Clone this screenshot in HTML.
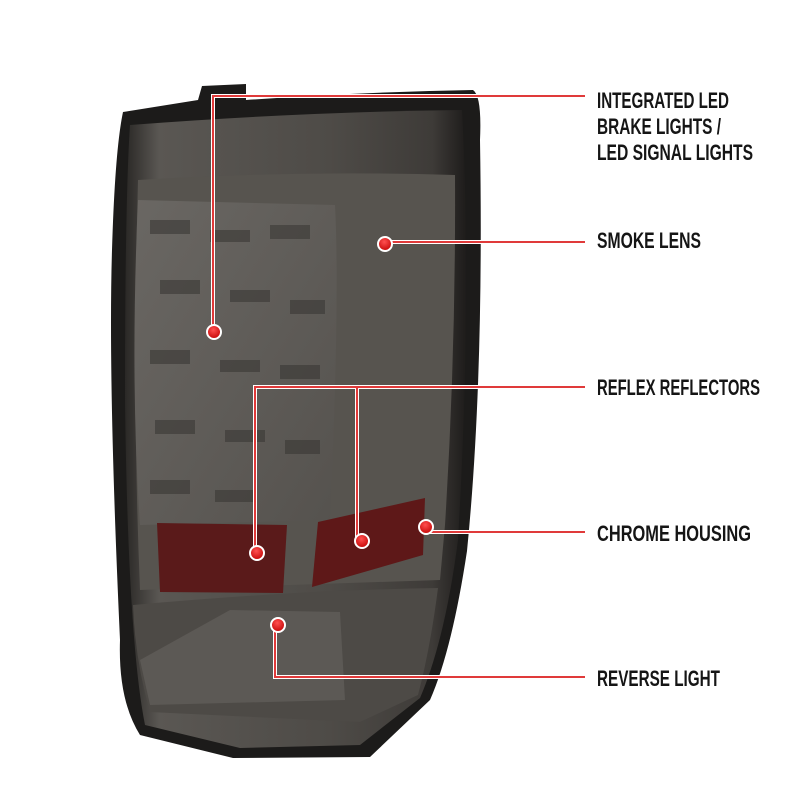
<!DOCTYPE html>
<html><head><style>
body{margin:0;background:#fff;}
svg{display:block}
.t{font-family:"Liberation Sans",sans-serif;font-size:22px;fill:#151515;font-weight:bold;}
</style></head><body>
<svg width="800" height="800" viewBox="0 0 800 800">
<defs>
<linearGradient id="body" x1="0" y1="0" x2="1" y2="0">
<stop offset="0" stop-color="#2a2826"/><stop offset="0.1" stop-color="#5a5753"/><stop offset="0.6" stop-color="#4e4b47"/><stop offset="0.9" stop-color="#3e3b38"/><stop offset="1" stop-color="#1e1c1b"/>
</linearGradient>
<linearGradient id="led" x1="0" y1="0" x2="1" y2="1">
<stop offset="0" stop-color="#6a6763"/><stop offset="1" stop-color="#55524e"/>
</linearGradient>
<radialGradient id="dot" cx="0.45" cy="0.35" r="0.7"><stop offset="0" stop-color="#ff5050"/><stop offset="1" stop-color="#c00000"/></radialGradient>
</defs>
<path d="M123,112 L198,100 L202,86 L246,84 L246,100 Q360,92 473,90 Q482,96 480,140 Q484,380 467,551 Q452,650 430,700 L370,757 L233,758 L140,735 Q118,700 120,640 Q108,380 112,250 Q115,150 123,112 Z" fill="#1c1b1a"/>
<path d="M130,125 Q300,112 462,110 Q472,300 458,540 Q445,640 420,698 L360,745 L240,748 L145,725 Q128,640 125,400 Q125,200 130,125 Z" fill="url(#body)"/>
<path d="M138,180 Q300,170 455,175 Q456,350 445,525 L440,580 L140,590 Q132,400 138,180 Z" fill="#57544f"/>
<path d="M138,200 L335,205 Q340,300 330,520 L140,525 Q130,380 138,200 Z" fill="url(#led)"/>
<g fill="#3a3835" opacity="0.6">
<rect x="150" y="220" width="40" height="14"/><rect x="210" y="230" width="40" height="12"/><rect x="270" y="225" width="40" height="14"/>
<rect x="160" y="280" width="40" height="14"/><rect x="230" y="290" width="40" height="12"/><rect x="290" y="300" width="35" height="14"/>
<rect x="150" y="350" width="40" height="14"/><rect x="220" y="360" width="40" height="12"/><rect x="280" y="365" width="40" height="14"/>
<rect x="155" y="420" width="40" height="14"/><rect x="225" y="430" width="40" height="12"/><rect x="285" y="440" width="35" height="14"/>
<rect x="150" y="480" width="40" height="14"/><rect x="215" y="490" width="40" height="12"/>
</g>
<path d="M157,523 L287,525 L283,593 L160,592 Z" fill="#5a1a1a"/>
<path d="M318,522 L425,498 L423,555 L312,587 Z" fill="#5e1818"/>
<path d="M133,605 Q300,590 438,588 Q430,650 418,695 L360,722 L150,712 Q135,660 133,605 Z" fill="#4d4a46"/>
<path d="M140,660 L230,610 L340,612 L345,700 L150,705 Z" fill="#5c5955"/>
<g fill="none" stroke="#fff" stroke-width="4">
<path d="M213,332 V96 H585"/><path d="M385,242 H585"/>
<path d="M255,553 V387 H585 M357,387 V541"/><path d="M425,532 H585"/><path d="M275,625 V677 H585"/>
</g>
<g fill="none" stroke="#e03a3a" stroke-width="2">
<path d="M213,332 V96 H585"/><path d="M385,242 H585"/>
<path d="M255,553 V387 H585 M357,387 V541"/><path d="M425,532 H585"/><path d="M275,625 V677 H585"/>
</g>
<g stroke="#fff" stroke-width="2" fill="url(#dot)">
<circle cx="214" cy="332" r="7"/><circle cx="385" cy="244" r="7"/><circle cx="257" cy="553" r="7"/>
<circle cx="362" cy="541" r="7"/><circle cx="426" cy="527" r="7"/><circle cx="278" cy="625" r="7"/>
</g>
<g class="t">
<text x="597" y="108" textLength="132" lengthAdjust="spacingAndGlyphs">INTEGRATED LED</text>
<text x="597" y="134" textLength="124" lengthAdjust="spacingAndGlyphs">BRAKE LIGHTS /</text>
<text x="597" y="160" textLength="156" lengthAdjust="spacingAndGlyphs">LED SIGNAL LIGHTS</text>
<text x="597" y="248" textLength="104" lengthAdjust="spacingAndGlyphs">SMOKE LENS</text>
<text x="597" y="395" textLength="163" lengthAdjust="spacingAndGlyphs">REFLEX REFLECTORS</text>
<text x="597" y="541" textLength="154" lengthAdjust="spacingAndGlyphs">CHROME HOUSING</text>
<text x="597" y="686" textLength="123" lengthAdjust="spacingAndGlyphs">REVERSE LIGHT</text>
</g>
</svg>
</body></html>
